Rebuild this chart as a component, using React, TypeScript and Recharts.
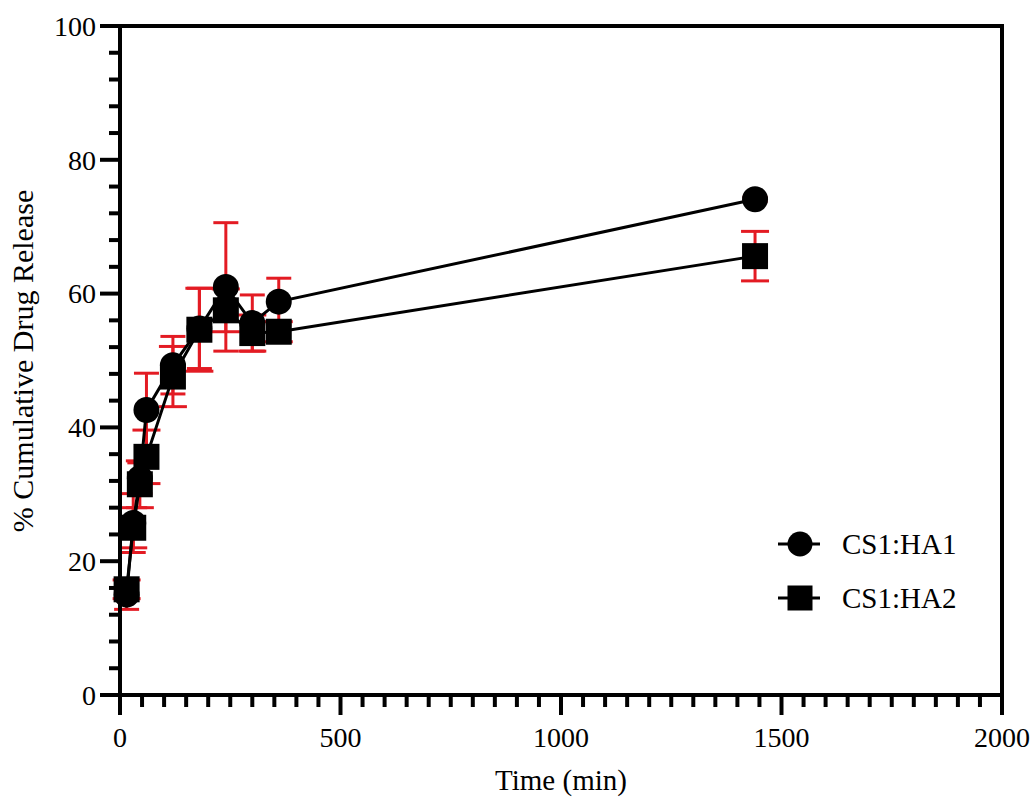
import { ComposedChart, ErrorBar, Legend, ReferenceArea, Scatter, XAxis, YAxis } from 'recharts'

const TIMES = [15, 30, 45, 60, 120, 180, 240, 300, 360, 1440]
const HA1_RELEASE = [15.0, 25.7, 32.4, 42.6, 49.3, 54.8, 61.0, 55.6, 58.8, 74.1]
const HA1_SD = [2.2, 4.4, 2.3, 5.5, 4.3, 6.0, 9.6, 4.2, 3.5, 0.3]
const HA2_RELEASE = [15.8, 25.0, 31.5, 35.6, 47.6, 54.6, 57.5, 54.1, 54.3, 65.6]
const HA2_SD = [1.4, 3.0, 3.5, 4.0, 4.5, 6.2, 3.2, 2.7, 1.5, 3.7]

const X_MAJOR = [0, 500, 1000, 1500, 2000]
const Y_MAJOR = [0, 20, 40, 60, 80, 100]
// minor ticks every 50 min / every 4 %
const X_TICKS = Array.from({ length: 41 }, (_, i) => i * 50)
const Y_TICKS = Array.from({ length: 26 }, (_, i) => i * 4)

const SERIES_NAMES = ['CS1:HA1', 'CS1:HA2']

const ha1 = TIMES.map((t, i) => ({ t, v: HA1_RELEASE[i], sd: HA1_SD[i] }))
const ha2 = TIMES.map((t, i) => ({ t, v: HA2_RELEASE[i], sd: HA2_SD[i] }))

const RED = '#e31b23'
const FONT = 'Liberation Serif'

const Dot = (props: any) => <circle cx={props.cx} cy={props.cy} r={13} fill="#000" />
const Box = (props: any) => (
  <rect x={props.cx - 13} y={props.cy - 13} width={26} height={26} fill="#000" />
)
const Nothing = () => <g />

const XTick = ({ x, y, payload }: any) => {
  const major = X_MAJOR.includes(payload.value)
  return (
    <g>
      <line x1={x} x2={x} y1={y} y2={y + (major ? 20 : 12)} stroke="#000" strokeWidth={4} />
      {major && (
        <text x={x} y={y + 52} textAnchor="middle" fontFamily={FONT} fontSize={28} fill="#000">
          {payload.value}
        </text>
      )}
    </g>
  )
}

const YTick = ({ x, y, payload }: any) => {
  const major = Y_MAJOR.includes(payload.value)
  return (
    <g>
      <line x1={x} x2={x - (major ? 20 : 11)} y1={y} y2={y} stroke="#000" strokeWidth={4} />
      {major && (
        <text x={x - 24} y={y} dy="0.35em" textAnchor="end" fontFamily={FONT} fontSize={28} fill="#000">
          {payload.value}
        </text>
      )}
    </g>
  )
}

const LegendBox = () => (
  <svg width={240} height={110}>
    <line x1={18} x2={60} y1={24} y2={24} stroke="#000" strokeWidth={3} />
    <circle cx={40} cy={24} r={12.5} fill="#000" />
    <text x={82} y={24} dy="0.35em" fontFamily={FONT} fontSize={29} fill="#000">
      {SERIES_NAMES[0]}
    </text>
    <line x1={18} x2={60} y1={78} y2={78} stroke="#000" strokeWidth={3} />
    <rect x={27.5} y={65.5} width={25} height={25} fill="#000" />
    <text x={82} y={78} dy="0.35em" fontFamily={FONT} fontSize={29} fill="#000">
      {SERIES_NAMES[1]}
    </text>
  </svg>
)

export default function App() {
  return (
    <div style={{ position: 'absolute', left: 0, top: 0, background: '#fff' }}>
      <ComposedChart width={1036} height={798} margin={{ top: 26, right: 34, bottom: 0, left: 0 }}>
        <XAxis
          type="number"
          dataKey="t"
          domain={[0, 2000]}
          ticks={X_TICKS}
          interval={0}
          tickSize={0}
          tickMargin={0}
          tickLine={false}
          tick={(p: any) => <XTick {...p} />}
          axisLine={{ stroke: '#000', strokeWidth: 4 }}
          height={103}
          label={{
            content: () => (
              <text x={561} y={790} textAnchor="middle" fontFamily={FONT} fontSize={29} fill="#000">
                Time (min)
              </text>
            ),
          }}
        />
        <YAxis
          type="number"
          dataKey="v"
          domain={[0, 100]}
          ticks={Y_TICKS}
          interval={0}
          tickSize={0}
          tickMargin={0}
          tickLine={false}
          tick={(p: any) => <YTick {...p} />}
          axisLine={{ stroke: '#000', strokeWidth: 4 }}
          width={120}
          label={{
            content: () => (
              <text
                transform="translate(22,361) rotate(-90)"
                textAnchor="middle"
                dominantBaseline="central"
                fontFamily={FONT}
                fontSize={30}
                fill="#000"
              >
                % Cumulative Drug Release
              </text>
            ),
          }}
        />
        <ReferenceArea x1={0} x2={2000} y1={0} y2={100} fill="none" stroke="#000" strokeWidth={4} />
        <Scatter
          name={SERIES_NAMES[1]}
          data={ha2}
          shape={Box}
          line={{ stroke: '#000', strokeWidth: 3 }}
          lineType="joint"
          isAnimationActive={false}
        />
        <Scatter
          name={SERIES_NAMES[0]}
          data={ha1}
          shape={Dot}
          line={{ stroke: '#000', strokeWidth: 3 }}
          lineType="joint"
          isAnimationActive={false}
        >
          <ErrorBar dataKey="sd" direction="y" stroke={RED} strokeWidth={3} width={12.5} />
        </Scatter>
        <Scatter data={ha2} shape={Nothing} isAnimationActive={false} legendType="none">
          <ErrorBar dataKey="sd" direction="y" stroke={RED} strokeWidth={3} width={14} />
        </Scatter>
        <Legend
          layout="vertical"
          align="center"
          verticalAlign="middle"
          wrapperStyle={{ left: 760, top: 520, width: 240, height: 110 }}
          content={() => <LegendBox />}
        />
      </ComposedChart>
    </div>
  )
}
